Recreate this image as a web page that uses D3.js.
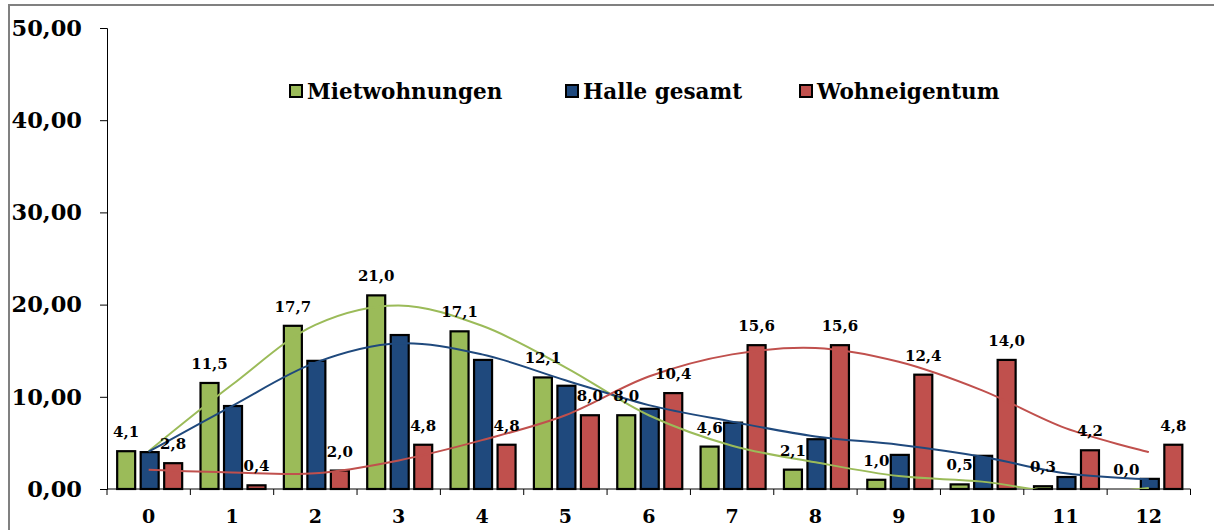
<!DOCTYPE html>
<html>
<head>
<meta charset="utf-8">
<script src="https://cdn.jsdelivr.net/npm/d3@7"></script>
<style>
  body { margin: 0; background: #fff; }
  svg { display: block; }
  text { font-family: "DejaVu Serif", serif; font-weight: bold; fill: #000; }
</style>
</head>
<body>
<script>
// categories and values
const categories = ["0", "1", "2", "3", "4", "5", "6", "7", "8", "9", "10", "11", "12"];
const seriesNames = ["Mietwohnungen", "Halle gesamt", "Wohneigentum"];
const miete = [4.1, 11.5, 17.7, 21.0, 17.1, 12.1, 8.0, 4.6, 2.1, 1.0, 0.5, 0.3, 0.0];
const halle = [4.0, 9.0, 13.9, 16.7, 14.0, 11.2, 8.7, 7.2, 5.4, 3.7, 3.6, 1.3, 1.1];
const eigentum = [2.8, 0.4, 2.0, 4.8, 4.8, 8.0, 10.4, 15.6, 15.6, 12.4, 14.0, 4.2, 4.8];
// trend curves (at category centres)
const trendMiete = [4.1, 11.3, 17.8, 19.9, 17.7, 13.2, 8.0, 4.7, 2.9, 1.4, 0.8, -0.4, 0.1];
const trendHalle = [4.05, 9.0, 13.7, 15.8, 14.6, 11.8, 9.1, 7.3, 5.7, 4.8, 3.5, 1.7, 1.05];
const trendEigentum = [2.1, 1.8, 1.7, 3.1, 5.3, 8.0, 12.2, 14.6, 15.3, 13.8, 10.7, 6.6, 4.0];
const yTicks = [0, 10, 20, 30, 40, 50];
const colors = ["#9BBB59", "#1F497D", "#C0504D"];

const W = 1214, H = 530;
const plot = {left: 107, right: 1190.5, top: 28, bottom: 489};

const svg = d3.select("body").append("svg")
    .attr("width", W)
    .attr("height", H);

// outer frame (left and top edges only are visible)
svg.append("path")
    .attr("d", `M9,${H} L9,5 L${W},5`)
    .attr("fill", "none")
    .attr("stroke", "#808080")
    .attr("stroke-width", 2);

const x = d3.scaleBand()
    .domain(categories)
    .range([plot.left, plot.right]);

const y = d3.scaleLinear()
    .domain([0, 50])
    .range([plot.bottom, plot.top]);

const fmt = v => d3.format(".1f")(v).replace(".", ",");
const fmtTick = v => d3.format(".2f")(v).replace(".", ",");

// y axis
const yAxis = svg.append("g")
    .attr("transform", `translate(${plot.left},0)`)
    .call(d3.axisLeft(y).tickValues(yTicks).tickSize(7).tickPadding(18).tickFormat(fmtTick));
yAxis.select(".domain").attr("stroke", "#000").attr("stroke-width", 1);
yAxis.selectAll(".tick line").attr("stroke", "#000");
yAxis.selectAll(".tick text")
    .style("font-family", "DejaVu Serif")
    .style("font-weight", "bold")
    .style("font-size", "22.5px")
    .attr("fill", "#000");

// x axis: ticks at category boundaries
const xAxisG = svg.append("g");
xAxisG.append("line")
    .attr("x1", plot.left).attr("x2", plot.right)
    .attr("y1", plot.bottom).attr("y2", plot.bottom)
    .attr("stroke", "#000");
xAxisG.selectAll("line.tk")
    .data(categories.concat(["end"]))
    .enter().append("line")
    .attr("class", "tk")
    .attr("x1", (d, i) => plot.left + i * x.bandwidth())
    .attr("x2", (d, i) => plot.left + i * x.bandwidth())
    .attr("y1", plot.bottom).attr("y2", plot.bottom + 6)
    .attr("stroke", "#000");
xAxisG.selectAll("text")
    .data(categories)
    .enter().append("text")
    .attr("x", d => x(d) + x.bandwidth() / 2)
    .attr("y", 523)
    .attr("text-anchor", "middle")
    .style("font-size", "19px")
    .text(d => d);

// bars
const series = [miete, halle, eigentum];
const step = 23.5, barW = 18;
const barX = (i, s) => x(categories[i]) + x.bandwidth() / 2 + 1 + (s - 1) * step;

series.forEach((vals, s) => {
    svg.append("g").selectAll("rect")
        .data(vals)
        .enter().append("rect")
        .attr("x", (d, i) => barX(i, s) - barW / 2)
        .attr("y", d => y(d))
        .attr("width", barW)
        .attr("height", d => y(0) - y(d))
        .attr("fill", colors[s])
        .attr("stroke", "#000")
        .attr("stroke-width", 2.2)
        .style("display", d => d <= 0 ? "none" : null);
});

// trend curves
svg.append("clipPath").attr("id", "plotclip")
    .append("rect")
    .attr("x", plot.left).attr("y", plot.top)
    .attr("width", plot.right - plot.left).attr("height", plot.bottom - plot.top);

const line = d3.line()
    .x((d, i) => x(categories[i]) + x.bandwidth() / 2)
    .y(d => y(d))
    .curve(d3.curveCatmullRom.alpha(0.5));

[trendMiete, trendHalle, trendEigentum].forEach((t, s) => {
    svg.append("path")
        .datum(t)
        .attr("clip-path", "url(#plotclip)")
        .attr("d", line)
        .attr("fill", "none")
        .attr("stroke", colors[s])
        .attr("stroke-width", 2);
});

// data labels (Mietwohnungen and Wohneigentum only)
[[miete, 0], [eigentum, 2]].forEach(([vals, s]) => {
    svg.append("g").selectAll("text")
        .data(vals)
        .enter().append("text")
        .attr("x", (d, i) => barX(i, s))
        .attr("y", d => y(d) - 14)
        .attr("text-anchor", "middle")
        .style("font-size", "15px")
        .text(d => fmt(d));
});

// legend
const legendX = [289, 565, 799];
const legend = svg.append("g");
seriesNames.forEach((name, s) => {
    legend.append("rect")
        .attr("x", legendX[s] + 1)
        .attr("y", 85)
        .attr("width", 12)
        .attr("height", 12)
        .attr("fill", colors[s])
        .attr("stroke", "#000")
        .attr("stroke-width", 2);
    legend.append("text")
        .attr("x", legendX[s] + 18)
        .attr("y", 99)
        .style("font-size", "21.5px")
        .text(name);
});
</script>
</body>
</html>
